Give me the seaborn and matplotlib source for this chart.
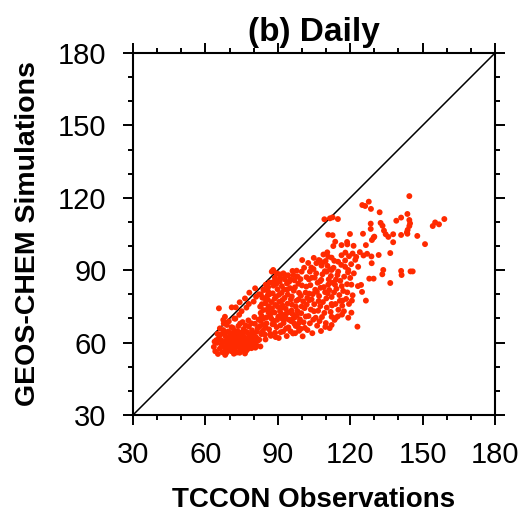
import matplotlib
matplotlib.use("Agg")
import matplotlib.pyplot as plt
import seaborn as sns
import pandas as pd
from matplotlib.ticker import MultipleLocator

# ---- data ----
outliers = [(144.5,120.7),(125.0,117.0),(126.2,116.6),(127.7,118.4),(128.6,115.4),(132.2,114.0),
            (111.6,111.5),(114.9,111.2),(109.3,111.1),(112.7,111.9),(128.5,109.3),(132.6,109.6),
            (139.1,110.5),(141.1,111.8),(143.7,113.3),(144.5,110.8),(144.8,109.4),(144.5,108.3),
            (159.0,111.2),(155.2,109.8),(156.8,109.0),(154.2,108.3),(128.5,107.1),(134.0,106.4),
            (134.7,104.9),(135.8,103.8),(137.8,104.9),(141.1,104.6),(143.5,105.7),(143.8,106.7),
            (143.7,105.1),(147.8,104.2),(125.3,105.1),(119.9,105.0),(129.7,103.5),(129.0,102.5),
            (137.8,101.6),(151.0,100.8),(136.6,97.1),(131.8,96.3),(141.1,89.7),(141.3,88.0),
            (145.0,89.5),(145.9,89.5),(133.3,88.3),(127.9,86.5),(129.7,86.5),(136.6,84.7),
            (126.5,77.4),(124.9,81.0),(123.0,66.6),(120.7,77.4),(116.8,77.4),(120.5,72.4),
            (119.2,70.3),(117.4,73.0),(116.6,71.6),(114.1,70.3),(112.3,70.7),(112.3,67.3),
            (112.3,76.0),(123.2,83.4),(124.5,83.9),(120.5,84.0),(118.8,80.8),(130.0,103.9),
            (133.4,108.4),(110.9,104.7),(112.7,104.5),(113.8,101.8),(116.4,100.4),(118.7,101.7),
            (118.8,100.7),(113.0,100.0),(121.4,100.1),(126.5,100.4),(116.4,96.2),(118.0,97.3),
            (119.5,95.8),(121.0,96.9),(122.5,95.5),(124.0,97.5),(125.5,96.1),(127.0,96.8),
            (128.8,95.7),(100.1,94.2),(97.8,89.8),(99.9,89.4),(107.5,93.9),(108.4,92.9),
            (109.8,93.8),(110.9,95.6),(112.3,95.2),(113.4,93.9),(115.0,93.5),(117.9,91.4),
            (119.2,90.1),(112.3,90.1),(115.0,89.4),(110.2,89.4),(103.3,89.4),(123.3,91.4),
            (128.9,92.9),(133.7,90.1)]

near_line = [(65.6,74.2),(68.1,70.7),(67.4,69.4),(70.9,74.6),(72.6,74.6),(74.2,76.7),(76.4,78.3),
             (78.2,80.7),(80.6,82.5),(87.5,89.4),(88.1,90.1),(89.5,88.7),(92.3,88.7),(96.1,89.7),
             (72.0,70.0),(74.0,71.5),(75.0,73.0),(77.0,74.5),(78.0,76.0),(80.0,77.0),(81.0,79.0),
             (83.0,80.0),(84.0,82.0),(85.0,84.0),(86.0,83.0),(88.0,85.0),(89.0,86.0),(91.0,87.0),
             (93.0,88.0)]

core_low = [(63.5,58.2),(64.1,56.4),(64.8,59.9),(65.2,55.3),(65.6,61.8),(66.0,57.5),(66.3,63.4),
            (66.7,59.1),(67.1,56.0),(67.4,65.2),(67.8,60.6),(68.0,58.0),(68.3,62.7),(68.6,55.7),
            (68.9,67.3),(69.2,59.4),(69.5,61.5),(69.8,57.2),(70.1,64.0),(70.3,60.3),(70.6,56.5),
            (70.9,62.2),(71.2,58.8),(71.4,66.1),(71.7,60.9),(72.0,57.6),(72.2,63.6),(72.5,59.7),
            (72.8,61.9),(73.0,55.9),(73.3,64.8),(73.6,58.4),(73.9,62.5),(74.1,60.0),(74.4,67.9),
            (74.7,57.1),(75.0,61.2),(75.2,63.9),(75.5,59.3),(75.8,65.6),(76.0,58.0),(76.3,62.0),
            (76.6,60.6),(76.9,56.6),(77.1,64.4),(77.4,59.0),(77.7,61.6),(78.0,66.7),(78.2,58.6),
            (78.5,63.1),(78.8,60.2),(79.1,57.7),(79.3,65.1),(79.6,61.0),(79.9,63.8),(80.2,59.5),
            (80.5,67.8),(80.8,62.4),(81.1,58.9),(81.4,64.6),(81.7,60.8),(82.0,69.5),(66.5,61.0),
            (67.0,58.8),(67.9,63.9),(68.8,57.0),(69.4,64.6),(70.0,58.9),(70.7,61.3),(71.5,56.8),
            (71.9,64.9),(72.6,57.9),(73.2,60.8),(73.8,63.0),(74.5,58.7),(75.1,56.9),(75.7,62.8),
            (76.2,64.9),(76.8,58.9),(77.5,57.3),(78.1,61.9),(78.7,59.0),(79.4,62.1),(80.0,60.9),
            (80.7,57.9),(81.3,61.7),(69.1,60.5),(70.4,62.9),(71.1,59.9),(72.3,61.0),(73.5,59.2),
            (74.8,64.1),(76.5,61.3),(77.9,63.6),(79.8,58.5),(82.3,61.2),(82.8,58.4),(83.2,63.5),
            (65.0,63.6),(66.0,65.9),(67.6,67.9),(69.7,68.8),(70.8,66.4),(72.4,69.9),(73.7,66.9),
            (75.4,68.5),(76.7,67.1),(77.8,69.2),(79.0,68.0),(80.3,70.6),(81.6,66.0),(64.5,61.0),
            (63.8,60.4),(68.2,54.9),(71.8,55.4),(74.2,55.8),(76.4,55.5)]

core_mid = [(82.5,66.8),(82.9,72.3),(83.4,75.9),(83.8,64.9),(84.2,70.1),(84.5,78.4),(84.9,61.3),
            (85.3,68.0),(85.6,73.7),(86.0,81.2),(86.4,65.5),(86.7,70.9),(87.1,62.8),(87.5,76.8),
            (87.8,67.6),(88.2,83.6),(88.6,72.5),(88.9,64.1),(89.3,79.0),(89.7,69.4),(90.0,74.8),
            (90.4,61.9),(90.8,85.3),(91.1,67.1),(91.5,71.9),(91.9,77.6),(92.2,64.6),(92.6,82.0),
            (93.0,69.8),(93.3,74.0),(93.7,62.7),(94.1,79.9),(94.4,66.3),(94.8,72.6),(95.2,86.1),
            (95.5,68.9),(95.9,75.7),(96.3,63.8),(96.6,81.5),(97.0,70.4),(97.4,66.9),(97.7,77.3),
            (98.1,73.1),(98.5,84.4),(98.8,64.9),(99.2,69.6),(99.6,79.4),(99.9,75.0),(83.0,69.0),
            (84.0,73.5),(85.0,66.2),(86.2,75.1),(87.3,70.0),(88.4,67.7),(89.0,75.6),(90.2,70.8),
            (91.3,74.4),(92.4,68.1),(93.5,72.0),(94.6,69.5),(95.7,73.3),(96.8,67.9),(97.9,71.2),
            (98.9,68.3),(83.6,78.6),(85.8,79.6),(87.9,80.4),(89.9,82.1),(91.7,83.4),(93.8,84.5),
            (95.0,82.6),(96.9,85.8),(98.2,87.4),(99.4,86.3),(84.7,63.3),(86.9,63.6),(89.1,62.3),
            (91.2,64.3),(93.4,65.8),(95.3,64.7),(97.2,63.9),(99.5,65.7),(82.2,80.0),(84.3,81.8),
            (86.6,84.9),(88.8,86.9),(90.7,88.3),(92.9,86.2),(94.3,87.9),(83.3,71.0),(84.8,76.3),
            (86.1,72.6),(87.6,74.2),(88.7,78.2),(90.6,76.9),(91.8,69.9),(92.8,78.5),(94.0,76.1),
            (95.4,77.9),(96.1,71.8),(97.5,74.9),(98.6,77.9),(99.7,72.2),(85.4,70.5),(88.1,69.1),
            (90.9,73.0),(93.1,71.0),(96.0,69.6),(98.4,66.4),(83.9,67.3),(85.9,77.7),(87.2,72.1),
            (89.5,66.4),(90.5,79.8),(92.0,75.3),(93.9,81.9),(95.8,79.1),(97.1,82.9),(98.8,80.6),
            (82.7,74.9),(86.5,80.0),(89.4,84.3),(91.6,80.6),(94.7,85.2),(96.5,87.9)]

core_high = [(100.3,62.6),(100.7,68.4),(101.1,74.3),(101.5,80.7),(101.9,87.1),(102.3,65.2),(102.7,71.0),
             (103.1,77.6),(103.5,83.8),(103.9,91.1),(104.3,63.9),(104.7,69.5),(105.1,75.9),(105.5,81.9),
             (105.9,88.7),(106.3,67.0),(106.7,73.2),(107.1,79.3),(107.5,85.4),(107.9,64.8),(108.3,70.6),
             (108.7,76.8),(109.1,83.0),(109.5,89.6),(109.9,68.1),(110.3,74.5),(110.7,80.4),(111.1,86.2),
             (111.5,66.0),(111.9,72.7),(112.3,78.9),(112.7,84.8),(113.1,91.0),(113.5,69.4),(113.9,76.0),
             (114.3,82.3),(114.7,88.0),(115.1,73.6),(115.5,79.7),(115.9,85.6),(116.3,92.2),(116.7,75.3),
             (117.1,81.4),(117.5,87.3),(117.9,94.0),(118.3,78.1),(118.7,84.2),(119.1,89.1),(119.5,76.0),
             (120.0,86.8),(120.4,92.5),(121.0,79.6),(121.5,88.7),(122.1,94.3),(100.0,83.7),(100.9,91.0),
             (101.6,70.8),(102.2,78.5),(102.9,86.2),(103.7,73.7),(104.5,80.1),(105.3,86.9),(106.0,92.9),
             (106.9,77.2),(107.7,82.7),(108.5,88.3),(109.3,72.3),(110.1,78.3),(110.9,84.0),(111.7,90.3),
             (112.5,75.4),(113.3,80.8),(114.1,86.1),(114.9,70.9),(115.7,77.3),(116.5,83.4),(101.2,66.1),
             (103.3,68.0),(105.7,70.3),(107.3,68.9),(109.7,66.5),(102.6,93.0),(104.9,95.1),(107.0,94.2),
             (108.9,96.5),(110.5,97.4),(100.5,77.1),(104.1,86.9),(106.5,84.8),(108.1,91.9),(111.3,81.8),
             (113.7,84.0),(101.8,83.2),(103.0,80.3),(104.8,90.5),(106.2,81.0),(108.0,86.0),(109.6,80.9),
             (110.6,91.8),(112.0,87.6),(105.0,73.0),(107.6,75.1),(102.0,75.8),(104.0,77.9)]

ticks = [30, 60, 90, 120, 150, 180]
title = "(b) Daily"
xlabel = "TCCON Observations"
ylabel = "GEOS-CHEM Simulations"

points = outliers + near_line + core_low + core_mid + core_high
df = pd.DataFrame(points, columns=["obs", "sim"])

sns.set_theme(style="white")
plt.rcParams["font.family"] = ["Liberation Sans", "DejaVu Sans"]
plt.rcParams["text.color"] = "black"
plt.rcParams["axes.labelcolor"] = "black"
plt.rcParams["xtick.color"] = "black"
plt.rcParams["ytick.color"] = "black"

fig = plt.figure(figsize=(5.24, 5.20), dpi=100)
ax = fig.add_axes([133/524, 1-415/520, 362/524, 362/520])

ax.plot([30, 180], [30, 180], color="black", lw=1.1, zorder=1)
sns.scatterplot(data=df, x="obs", y="sim", ax=ax, color="#ff2a00", s=18,
                linewidth=0, edgecolor="none", zorder=2, legend=False)

ax.set_xlim(30, 180)
ax.set_ylim(30, 180)
ax.set_xticks(ticks)
ax.set_yticks(ticks)
ax.xaxis.set_minor_locator(MultipleLocator(10))
ax.yaxis.set_minor_locator(MultipleLocator(10))
ax.tick_params(which="both", direction="out", top=True, right=True, bottom=True, left=True,
               labeltop=False, labelright=False, color="black", labelcolor="black", width=1.4)
ax.tick_params(which="major", length=7, labelsize=21, pad=12)
ax.tick_params(which="minor", length=3.5)
for sp in ax.spines.values():
    sp.set_color("black")
    sp.set_linewidth(1.5)

ax.set_xlabel(xlabel, fontsize=20, fontweight="bold", labelpad=13, color="black")
ax.set_ylabel(ylabel, fontsize=20.5, fontweight="bold", labelpad=12, color="black")
ax.set_title(title, fontsize=24, fontweight="bold", pad=9, color="black")

fig.savefig("out.png", dpi=100)
